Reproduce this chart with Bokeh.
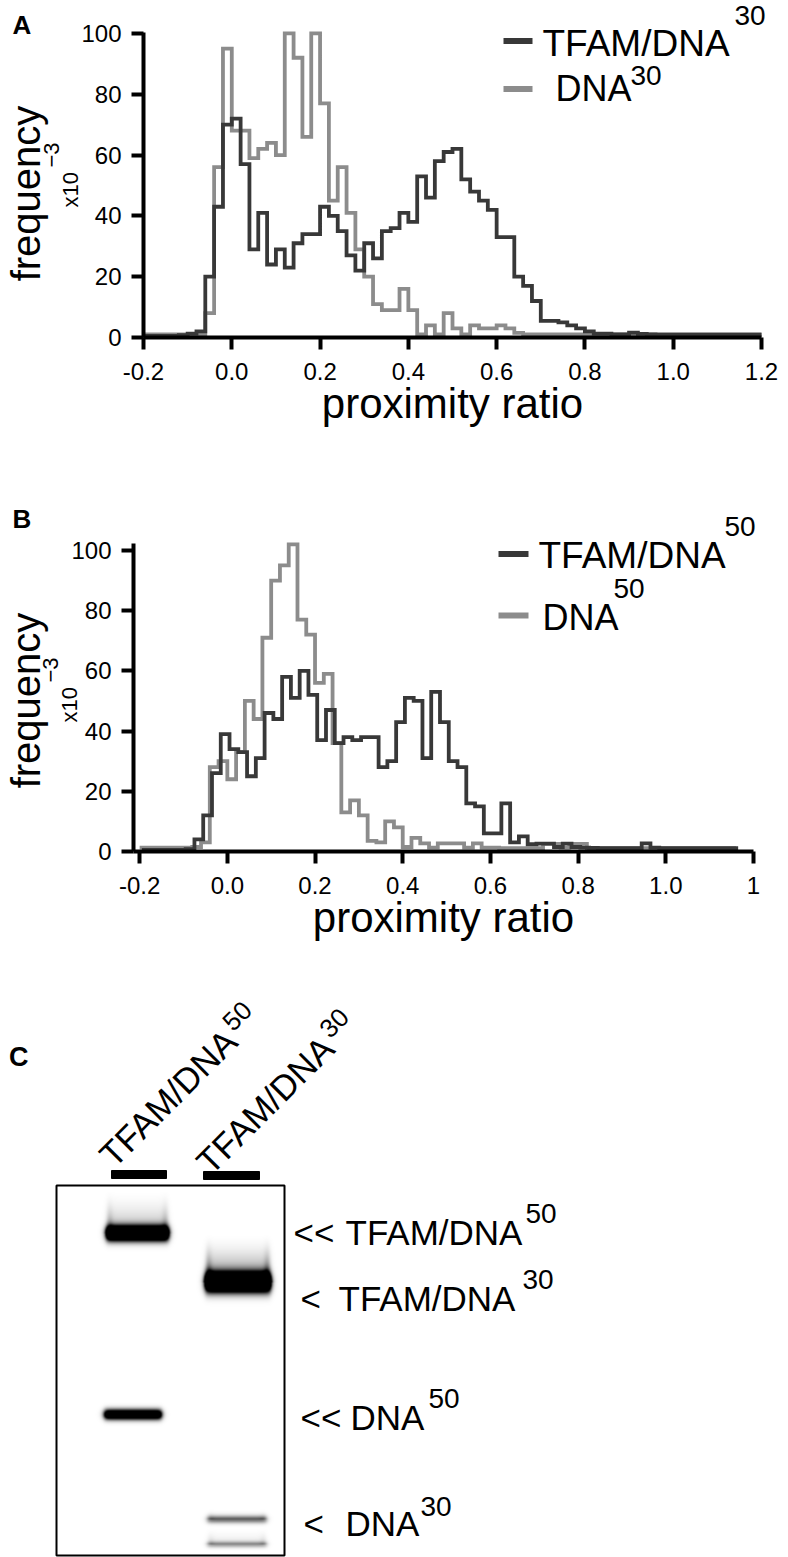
import numpy as np
from bokeh.plotting import figure
from bokeh.models import Range1d, Label, FixedTicker, LinearColorMapper
from bokeh.layouts import column
from bokeh.embed import file_html
from bokeh.resources import INLINE
from bokeh.palettes import Greys256

FONT = "Liberation Sans"
DARK = "#383838"
GRAY = "#8c8c8c"
BIN = 0.02
PAGE_W = 788

# ---------------- data ----------------
ratio_ticks = [-0.2, 0.0, 0.2, 0.4, 0.6, 0.8, 1.0, 1.2]
ratio_labels_a = ["-0.2", "0.0", "0.2", "0.4", "0.6", "0.8", "1.0", "1.2"]
ratio_labels_b = ["-0.2", "0.0", "0.2", "0.4", "0.6", "0.8", "1.0", "1"]
freq_ticks = [0, 20, 40, 60, 80, 100]
freq_labels = ["0", "20", "40", "60", "80", "100"]

# Panel A: proximity-ratio histograms (frequency x10^-3), bins of 0.02 from -0.2
a_start = -0.2
a_tfam_dna30 = [0.5, 0.5, 0.5, 0.5, 0.8, 1.3, 2, 20, 43, 70,
                72, 57, 29, 41, 24, 29, 23, 31, 34, 34,
                43, 40, 35, 27, 22, 31, 26, 35, 36, 41,
                38, 53, 46, 58, 61, 62, 52, 48, 45, 42,
                33, 33, 20, 17, 12, 5.5, 5.5, 5, 4, 3,
                2, 1.3, 1.3, 1, 1, 1.6, 1.2, 1, 0.9, 0.9,
                0.9, 0.9, 0.9, 0.9, 0.9, 0.9, 0.9, 0.9, 0.9, 0.9]
a_dna30 = [1, 1, 1, 1, 1, 1, 1, 8, 56, 95,
           68, 68, 59, 62, 64, 60, 100, 92, 66, 100,
           77, 45, 56, 41, 29, 20, 11, 9, 9, 16,
           9, 1, 4, 1, 8, 3, 1, 4, 3, 3,
           4, 3, 1.5, 1, 1, 1, 1, 1, 1, 1,
           1, 1, 1, 1, 1, 1, 1, 1, 1, 1,
           1, 1, 1, 1, 1, 1, 1, 1, 1, 1]

# Panel B
b_tfam_start = -0.195
b_tfam_dna50 = [0.5, 0.5, 0.5, 0.5, 0.5, 0.8, 4, 12, 26, 39,
                34, 33, 25, 31, 46, 44, 58, 51, 60, 52,
                37, 47, 36, 38, 37, 38, 38, 28, 30, 43,
                51, 50, 31, 53, 43, 30, 28, 16, 15, 6,
                6, 16, 3, 5, 2.4, 2.6, 2.6, 1.5, 2.6, 1.5,
                1.3, 1.2, 1.1, 1.1, 1.1, 1.1, 1.1, 2.7, 1.3, 1.1,
                1.1, 1.1, 1.1, 1.1, 1.1, 1.1, 1.1, 1.1]
b_dna_start = -0.2
b_dna50 = [1.3, 1.3, 1.3, 1.3, 1.3, 1.3, 1.5, 3, 28, 30,
           24, 33, 50, 44, 71, 90, 95, 102, 77, 72,
           56, 59, 36, 13, 17, 12, 3.5, 3, 10, 8,
           1.5, 4.5, 2.7, 1.3, 2.7, 2.7, 2.7, 1.3, 2.7, 1.3,
           1.3, 1.1, 1.1, 1.1, 1.1, 1.1, 2.5, 2.5, 1.3, 2.5,
           2.5, 1.1, 1.1, 1.1, 1.1, 1.1, 1.1, 1.1, 1.1, 1.1,
           1.1, 1.1, 1.1, 1.1, 1.1, 1.1, 1.1, 1.1]

# Panel C: gel lanes and bands (pixel geometry of the scanned gel)
gel_lanes = ["TFAM/DNA", "TFAM/DNA"]
gel_lane_sup = ["50", "30"]
band_left = [106, 104, 205, 207, 207]
band_right = [168, 161, 270, 266, 266]
band_center = [1233, 1414, 1282, 1519, 1544]
band_sigma = [5.0, 3.5, 6.5, 2.6, 2.1]
band_peak = [2.5, 1.8, 2.8, 0.55, 0.38]
band_smear_top = [1188, 1405, 1232, 1508, 1526]
band_smear = [0.35, 0.0, 0.6, 0.12, 0.12]


def steps(start, vals):
    edges = start + BIN * np.arange(len(vals) + 1)
    ys = list(vals) + [vals[-1]]
    return edges, ys


def lab(p, X, Y, px, py, text, size, angle=0.0, bold=False, align="left"):
    # px, py: wanted page position of the alphabetic baseline start;
    # shift along the text's "up" direction to compensate Bokeh's baseline offset
    corr = 0.2 * size + 3
    qx = px - np.sin(angle) * corr
    qy = py - np.cos(angle) * corr
    p.add_layout(Label(x=X(qx), y=Y(qy), text=text, angle=angle, text_font=FONT,
                       text_font_size=f"{size}px",
                       text_font_style="bold" if bold else "normal",
                       text_align=align, text_baseline="alphabetic", text_color="black"))


def make_hist_fig(height, X, Y, page_top, xlabels, xb, yb):
    p = figure(width=PAGE_W, height=height, output_backend="svg", toolbar_location=None,
               title=None, min_border=0,
               x_range=Range1d(X(0), X(PAGE_W)),
               y_range=Range1d(Y(page_top + height), Y(page_top)))
    for ax in (p.xaxis[0], p.yaxis[0]):
        ax.axis_line_width = 4
        ax.axis_line_color = "black"
        ax.major_tick_line_width = 4
        ax.major_tick_line_color = "black"
        ax.major_tick_out = 12
        ax.major_tick_in = 0
        ax.minor_tick_line_color = None
        ax.major_label_text_font = FONT
        ax.major_label_text_font_size = "24px"
        ax.major_label_text_color = "black"
    p.xaxis[0].fixed_location = 0
    p.yaxis[0].fixed_location = xb[0]
    p.xaxis[0].bounds = xb
    p.yaxis[0].bounds = yb
    p.xaxis[0].ticker = FixedTicker(ticks=ratio_ticks)
    p.xaxis[0].major_label_overrides = dict(zip(ratio_ticks, xlabels))
    p.yaxis[0].ticker = FixedTicker(ticks=freq_ticks)
    p.yaxis[0].major_label_overrides = dict(zip(freq_ticks, freq_labels))
    p.xaxis[0].major_label_standoff = 13
    p.yaxis[0].major_label_standoff = 10
    p.xaxis[0].axis_label = "proximity ratio"
    p.xaxis[0].axis_label_text_font = FONT
    p.xaxis[0].axis_label_text_font_size = "42px"
    p.xaxis[0].axis_label_text_font_style = "normal"
    p.xaxis[0].axis_label_text_color = "black"
    p.xaxis[0].axis_label_standoff = -3
    p.grid.visible = False
    p.outline_line_color = None
    p.background_fill_color = "white"
    p.border_fill_color = "white"
    return p


# ---------------- Panel A (page y 0..470) ----------------
def XA(px):
    return -0.2 + (px - 143) / 441.43


def YA(py):
    return (337 - py) / 3.0409


pa = make_hist_fig(470, XA, YA, 0, ratio_labels_a, (-0.2, 1.2), (0, 100.3))
ex, ey = steps(a_start, a_dna30)
pa.step(ex, ey, mode="after", line_color=GRAY, line_width=3.8, line_join="miter")
ex, ey = steps(a_start, a_tfam_dna30)
pa.step(ex, ey, mode="after", line_color=DARK, line_width=3.8, line_join="miter")

pa.line([XA(503), XA(532)], [YA(40.5), YA(40.5)], line_color=DARK, line_width=6)
pa.line([XA(503), XA(532)], [YA(88.5), YA(88.5)], line_color=GRAY, line_width=6)
lab(pa, XA, YA, 542, 53, "TFAM/DNA", 37)
lab(pa, XA, YA, 734, 23.5, "30", 28)
lab(pa, XA, YA, 555, 98.5, "DNA", 36)
lab(pa, XA, YA, 630, 83.5, "30", 28)
lab(pa, XA, YA, 12, 33, "A", 26, bold=True)
lab(pa, XA, YA, 36, 193, "frequency", 40, angle=np.pi / 2, align="center")
lab(pa, XA, YA, 77, 207, "x10", 22, angle=np.pi / 2)
lab(pa, XA, YA, 58, 167, "\u22123", 22, angle=np.pi / 2)


# ---------------- Panel B (page y 470..945) ----------------
def XB(px):
    return -0.214 + (px - 133) / 438.47


def YB(py):
    return (851 - py) / 3.0108


pb = make_hist_fig(475, XB, YB, 470, ratio_labels_b, (-0.214, 1.2), (0, 102.3))
ex, ey = steps(b_dna_start, b_dna50)
pb.step(ex, ey, mode="after", line_color=GRAY, line_width=3.8, line_join="miter")
ex, ey = steps(b_tfam_start, b_tfam_dna50)
pb.step(ex, ey, mode="after", line_color=DARK, line_width=3.8, line_join="miter")

pb.line([XB(498), XB(528)], [YB(553.5), YB(553.5)], line_color=DARK, line_width=6)
pb.line([XB(498), XB(528)], [YB(615), YB(615)], line_color=GRAY, line_width=6)
lab(pb, XB, YB, 538, 565, "TFAM/DNA", 37)
lab(pb, XB, YB, 724, 535, "50", 28)
lab(pb, XB, YB, 542, 627, "DNA", 36)
lab(pb, XB, YB, 613, 597, "50", 28)
lab(pb, XB, YB, 12, 527, "B", 26, bold=True)
lab(pb, XB, YB, 36, 700, "frequency", 40, angle=np.pi / 2, align="center")
lab(pb, XB, YB, 76, 722, "x10", 22, angle=np.pi / 2)
lab(pb, XB, YB, 57, 682, "\u22123", 22, angle=np.pi / 2)

# ---------------- Panel C (gel, page y 945..1557) ----------------
C_TOP, C_H = 945, 612
pc = figure(width=PAGE_W, height=C_H, output_backend="svg", toolbar_location=None,
            title=None, x_range=Range1d(0, PAGE_W), y_range=Range1d(0, C_H), min_border=0)
pc.axis.visible = False
pc.grid.visible = False
pc.outline_line_color = None
pc.background_fill_color = "white"
pc.border_fill_color = "white"


def cx(px):
    return px


def cy(py):
    return C_TOP + C_H - py


g_left, g_right, g_top, g_bottom = 56, 284, 1185, 1555
W, H = g_right - g_left, g_bottom - g_top
Yp = g_bottom - np.arange(H)[:, None] - 0.5
Xp = g_left + np.arange(W)[None, :] + 0.5
dens = np.zeros((H, W))
for l, r, c, s, pk, st, sm in zip(band_left, band_right, band_center, band_sigma,
                                  band_peak, band_smear_top, band_smear):
    xprof = 1 / (1 + np.exp(-(Xp - l) / 1.4)) * 1 / (1 + np.exp((Xp - r) / 1.4))
    core = pk * np.exp(-0.5 * ((Yp - c) / s) ** 2)
    t = np.clip((Yp - st) / max(c - st, 1), 0, 1) * (Yp <= c)
    edge = np.exp(-0.5 * ((Xp - l - 3) / 2.5) ** 2) + np.exp(-0.5 * ((Xp - r + 3) / 2.5) ** 2)
    dens += xprof * (core + sm * t ** 2 * (1 + 0.8 * edge))
img = 1 - np.clip(dens, 0, 1)
mapper = LinearColorMapper(palette=Greys256, low=0, high=1)
pc.image(image=[img], x=g_left, y=cy(g_bottom), dw=W, dh=H, color_mapper=mapper)
pc.quad(left=g_left, right=g_right, bottom=cy(g_bottom), top=cy(g_top),
        fill_color=None, line_color="black", line_width=2)
pc.quad(left=[111, 203], right=[166, 259],
        bottom=[cy(1178), cy(1179)], top=[cy(1170), cy(1171)], color="black")

lab(pc, cx, cy, 8.5, 1065, "C", 27, bold=True)

# rotated lane labels (45 degrees) with raised superscripts after the text
LANE_FONT, SUP_FONT = 35, 26
ang = np.pi / 4
d = np.array([np.cos(ang), -np.sin(ang)])   # along baseline (page coords, y down)
n = np.array([-np.sin(ang), -np.cos(ang)])  # text "up"
lane_start = [(112, 1167), (209, 1174)]
for name, sup, (sx, sy) in zip(gel_lanes, gel_lane_sup, lane_start):
    lab(pc, cx, cy, sx, sy, name, LANE_FONT, angle=ang)
    end = np.array([sx, sy]) + 5.111 * LANE_FONT * d
    sp = end + 2 * d + 11 * n
    lab(pc, cx, cy, sp[0], sp[1], sup, SUP_FONT, angle=ang)

lab(pc, cx, cy, 293, 1242, "<<", 35)
lab(pc, cx, cy, 345, 1242, "TFAM/DNA", 35)
lab(pc, cx, cy, 525, 1222, "50", 28)
lab(pc, cx, cy, 300, 1308, "<", 35)
lab(pc, cx, cy, 338, 1308, "TFAM/DNA", 35)
lab(pc, cx, cy, 522, 1288, "30", 28)
lab(pc, cx, cy, 300, 1427, "<<", 35)
lab(pc, cx, cy, 350, 1427, "DNA", 35)
lab(pc, cx, cy, 428, 1407, "50", 28)
lab(pc, cx, cy, 303, 1533, "<", 35)
lab(pc, cx, cy, 345, 1533, "DNA", 35)
lab(pc, cx, cy, 420, 1515, "30", 28)

layout = column(pa, pb, pc, spacing=0)
open("out.html", "w").write(file_html(layout, INLINE))
